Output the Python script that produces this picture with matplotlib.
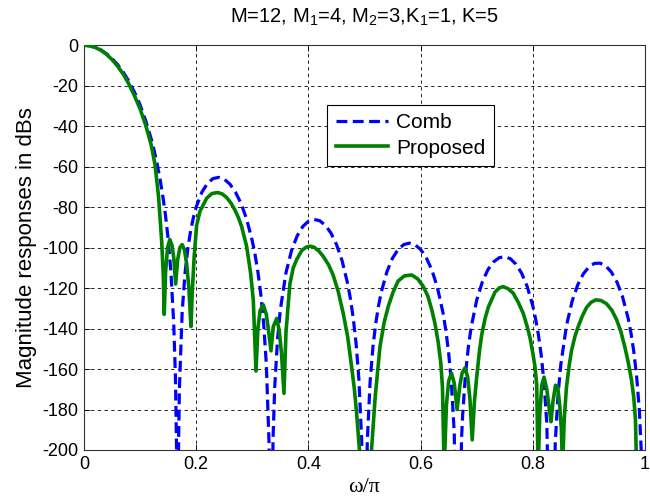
import matplotlib
matplotlib.use("Agg")
import matplotlib.pyplot as plt

plt.rcParams['font.family'] = ['Liberation Sans', 'DejaVu Sans']
plt.rcParams['mathtext.default'] = 'regular'
plt.rcParams['axes.unicode_minus'] = False

# Normalized frequency (omega/pi) and magnitude in dB for the comb filter
comb_w = [0, 0.01, 0.02, 0.03, 0.04, 0.05, 0.06, 0.07, 0.08, 0.09, 0.10, 0.11, 0.12, 0.125,
          0.13, 0.135, 0.14, 0.145, 0.15, 0.155, 0.16, 0.163, 0.165, 0.1667, 0.168, 0.170,
          0.175, 0.18, 0.185, 0.19, 0.195, 0.20, 0.21, 0.22, 0.23, 0.24, 0.25, 0.26, 0.27,
          0.28, 0.29, 0.30, 0.305, 0.31, 0.315, 0.32, 0.325, 0.33, 0.3333, 0.337, 0.34,
          0.345, 0.35, 0.36, 0.37, 0.38, 0.39, 0.40, 0.41, 0.42, 0.43, 0.44, 0.45, 0.46,
          0.47, 0.475, 0.48, 0.485, 0.49, 0.495, 0.5, 0.505, 0.51, 0.515, 0.52, 0.525,
          0.53, 0.54, 0.55, 0.56, 0.57, 0.58, 0.59, 0.60, 0.61, 0.62, 0.63, 0.64, 0.645,
          0.65, 0.655, 0.66, 0.6667, 0.673, 0.675, 0.68, 0.685, 0.69, 0.70, 0.71, 0.72,
          0.73, 0.74, 0.75, 0.76, 0.77, 0.78, 0.79, 0.80, 0.805, 0.81, 0.815, 0.82, 0.825,
          0.8333, 0.84, 0.845, 0.85, 0.86, 0.87, 0.88, 0.89, 0.90, 0.91, 0.92, 0.93, 0.94,
          0.95, 0.96, 0.97, 0.975, 0.98, 0.985, 0.99, 0.995, 1.0]
comb_db = [0, -0.3, -1.0, -2.3, -4.2, -6.6, -9.6, -13.3, -17.8, -23.2, -29.5, -37.3, -46.5, -52.0,
           -58.2, -65.3, -73.5, -83.4, -95.7, -112.3, -137.7, -164.0, -199.0, -300, -209.5, -170.3,
           -131.9, -112.9, -100.7, -91.8, -85.2, -80.0, -72.7, -68.3, -65.9, -65.3, -66.2, -68.6, -72.6,
           -78.2, -86.0, -96.7, -103.6, -112.0, -122.6, -136.6, -157.4, -197.6, -300, -194.3, -168.8,
           -145.3, -130.7, -112.5, -101.4, -94.2, -89.6, -87.0, -86.1, -86.7, -88.9, -92.7, -98.4, -106.4,
           -117.8, -125.4, -134.9, -147.3, -164.9, -195.2, -300, -195.8, -166.3, -149.3, -137.6, -128.8,
           -121.9, -111.9, -105.2, -100.9, -98.5, -97.8, -98.6, -100.9, -104.9, -111.0, -119.7, -132.3, -140.9,
           -152.0, -167.3, -191.6, -300, -194.3, -182.6, -162.6, -149.4, -139.6, -126.0, -117.0, -110.9,
           -107.1, -105.0, -104.5, -105.5, -108.2, -112.6, -119.2, -128.8, -135.2, -143.0, -153.1, -166.6, -186.8,
           -300, -196.7, -172.7, -157.7, -138.6, -126.6, -118.5, -113.0, -109.6, -107.8, -107.7, -109.0, -112.1,
           -117.0, -124.3, -135.0, -142.2, -151.3, -163.3, -180.6, -210.6, -300]

# Normalized frequency (omega/pi) and magnitude in dB for the proposed filter
prop_w = [0, 0.01, 0.02, 0.03, 0.04, 0.05, 0.06, 0.07, 0.08, 0.09, 0.10, 0.11, 0.12, 0.1266,
          0.133, 0.1385, 0.1414, 0.143, 0.1455, 0.149, 0.153, 0.157, 0.160, 0.1634, 0.167,
          0.171, 0.175, 0.179, 0.183, 0.187, 0.1907, 0.193, 0.1965, 0.2008, 0.2068, 0.2187,
          0.228, 0.2383, 0.2465, 0.2544, 0.262, 0.269, 0.275, 0.281, 0.290, 0.297, 0.3018,
          0.3066, 0.310, 0.314, 0.3197, 0.325, 0.329, 0.3333, 0.3375, 0.3435, 0.348, 0.352,
          0.3565, 0.360, 0.367, 0.373, 0.379, 0.388, 0.396, 0.403, 0.410, 0.418, 0.4266,
          0.436, 0.444, 0.453, 0.462, 0.470, 0.477, 0.482, 0.486, 0.491, 0.496, 0.502, 0.508,
          0.5125, 0.519, 0.5276, 0.535, 0.5425, 0.551, 0.560, 0.571, 0.584, 0.595, 0.605,
          0.613, 0.620, 0.626, 0.6316, 0.636, 0.639, 0.642, 0.646, 0.650, 0.655, 0.660, 0.665,
          0.670, 0.674, 0.679, 0.684, 0.688, 0.692, 0.696, 0.700, 0.705, 0.709, 0.715, 0.7207,
          0.7326, 0.740, 0.747, 0.756, 0.765, 0.774, 0.783, 0.790, 0.795, 0.800, 0.804, 0.807,
          0.8095, 0.8125, 0.816, 0.820, 0.825, 0.8295, 0.8324, 0.836, 0.8405, 0.8445, 0.848,
          0.851, 0.853, 0.856, 0.860, 0.865, 0.869, 0.875, 0.881, 0.888, 0.896, 0.904, 0.9127,
          0.922, 0.9317, 0.941, 0.9495, 0.957, 0.964, 0.970, 0.976, 0.980, 0.983, 0.9855,
          0.99, 1.0]
prop_db = [0, -0.3, -1.1, -2.5, -4.5, -7.1, -10.4, -14.3, -19.2, -25.0, -31.5, -39.5, -49.5, -59.0,
           -75.0, -97.0, -114.0, -133.0, -112.0, -100.0, -96.0, -99.0, -105.0, -118.0, -106.0,
           -100.0, -98.5, -101.0, -108.0, -120.0, -139.0, -122.0, -104.0, -89.0, -82.0, -75.6,
           -73.3, -72.8, -73.5, -75.3, -78.0, -81.4, -85.0, -89.6, -99.5, -112.6, -126.0,
           -161.0, -140.0, -131.0, -128.3, -133.0, -141.0, -151.0, -139.0, -135.0, -141.0, -152.0,
           -172.0, -142.0, -118.0, -110.0, -106.0, -101.5, -99.8, -99.3, -99.8, -101.5, -104.4,
           -108.5, -113.5, -121.5, -132.4, -144.0, -158.8, -170.0, -182.0, -200.0, -230.0, -218.0, -230.0,
           -200.0, -174.0, -149.0, -137.0, -129.0, -122.0, -116.5, -114.0, -113.5, -115.5, -119.3,
           -124.0, -130.8, -138.0, -147.2, -157.0, -169.0, -210.0, -178.0, -166.0, -162.0, -167.0, -180.0,
           -168.0, -162.0, -159.5, -164.0, -175.0, -195.0, -176.0, -164.0, -151.0, -143.0, -135.0, -129.5,
           -122.0, -120.0, -119.3, -120.3, -122.5, -127.0, -132.5, -139.0, -144.5, -152.0, -159.0, -168.0,
           -210.0, -182.0, -168.0, -164.0, -170.0, -180.0, -186.0, -176.0, -168.0, -169.0, -178.0,
           -190.0, -210.0, -185.0, -169.0, -158.0, -151.0, -144.0, -139.0, -134.0, -129.5, -127.0, -125.8,
           -126.2, -127.8, -131.0, -135.7, -141.5, -149.0, -156.5, -165.5, -174.0, -185.0, -215.0,
           -228.0, -222.0]

x_ticks = [0, 0.2, 0.4, 0.6, 0.8, 1]
x_tick_labels = ['0', '0.2', '0.4', '0.6', '0.8', '1']
y_ticks = list(range(-200, 1, 20))

fig = plt.figure(figsize=(6.5, 5.01), dpi=100)
ax = fig.add_axes([0.1292, 0.1018, 0.8631, 0.8080])

ax.plot(comb_w, comb_db, color='#0000ff', lw=2.3, linestyle='--', dashes=(3.4, 1.7),
        label='Comb', zorder=3)
ax.plot(prop_w, prop_db, color='#008000', lw=2.6, linestyle='-', label='Proposed', zorder=4)

ax.set_xlim(0, 1)
ax.set_ylim(-200, 0)
ax.set_xticks(x_ticks)
ax.set_xticklabels(x_tick_labels)
ax.set_yticks(y_ticks)
ax.set_yticklabels([str(v) for v in y_ticks])

ax.grid(True, color='black', linestyle=(0, (4, 4)), linewidth=0.6)
ax.tick_params(direction='in', top=True, right=True, length=4, width=0.6,
               labelsize=13, pad=4, colors='black')
for spine in ax.spines.values():
    spine.set_linewidth(0.8)
    spine.set_color('#333333')

ax.set_title('M=12, M$_1$=4, M$_2$=3,K$_1$=1, K=5', fontsize=14.5, pad=16)
ax.set_ylabel('Magnitude responses in dBs', fontsize=16, labelpad=4)
ax.set_xlabel('ω/π', fontsize=16, family=['Liberation Serif', 'DejaVu Serif'], labelpad=4)

leg = ax.legend(loc='upper left', bbox_to_anchor=(0.4337, 0.8523), borderaxespad=0,
                fontsize=15, fancybox=False, framealpha=1, edgecolor='black',
                handlelength=2.5, handletextpad=0.4, borderpad=0.4, labelspacing=0.3)
leg.get_frame().set_linewidth(0.8)

fig.savefig('out.png', dpi=100)
